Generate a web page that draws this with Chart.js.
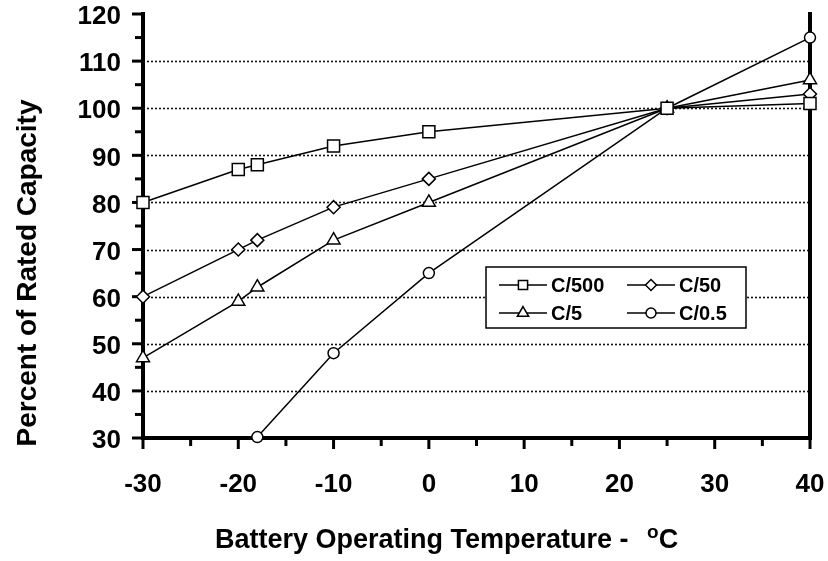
<!DOCTYPE html>
<html><head><meta charset="utf-8">
<script src="https://cdn.jsdelivr.net/npm/chart.js@4/dist/chart.umd.min.js"></script>
<style>html,body{margin:0;padding:0;background:#fff}#wrap{width:828px;height:561px}</style>
</head><body><div id="wrap"><canvas id="c" width="828" height="561"></canvas></div>
<script>
// ---- data ----
const seriesNames = ['C/500', 'C/50', 'C/5', 'C/0.5'];
const tempC500 = [-30, -20, -18, -10, 0, 25, 40];
const capC500  = [80, 87, 88, 92, 95, 100, 101];
const tempC50  = [-30, -20, -18, -10, 0, 25, 40];
const capC50   = [60, 70, 72, 79, 85, 100, 103];
const tempC5   = [-30, -20, -18, -10, 0, 25, 40];
const capC5    = [47, 59, 62, 72, 80, 100, 106];
const tempC05  = [-18, -10, 0, 25, 40];
const capC05   = [30.2, 48, 65, 100, 115];
const xTickValues = [-30, -20, -10, 0, 10, 20, 30, 40];
const xMinorTicks = [-25, -15, -5, 5, 15, 25, 35];
const yTickValues = [30, 40, 50, 60, 70, 80, 90, 100, 110, 120];
const yMinorTicks = [35, 45, 55, 65, 75, 85, 95, 105, 115];
const yTitle = 'Percent of Rated Capacity';
const xTitleMain = 'Battery Operating Temperature - ';
const xTitleSup = 'o';
const xTitleUnit = 'C';

const FONT = '"Liberation Sans", Arial, sans-serif';
const pts = (xs, ys) => xs.map((v, i) => ({x: v, y: ys[i]}));
const styles = [
  {pointStyle: 'rect', r: 8.5, lr: 6.5},
  {pointStyle: 'rectRot', r: 6.5, lr: 5.5},
  {pointStyle: 'triangle', r: 7.5, lr: 6.5},
  {pointStyle: 'circle', r: 5.5, lr: 5}
];
const dataSets = [pts(tempC500, capC500), pts(tempC50, capC50), pts(tempC5, capC5), pts(tempC05, capC05)];

function drawMarker(ctx, style, r, x, y) {
  ctx.beginPath();
  if (style === 'rect') {
    const s = r * Math.SQRT1_2;
    ctx.rect(x - s, y - s, 2 * s, 2 * s);
  } else if (style === 'rectRot') {
    ctx.moveTo(x, y - r); ctx.lineTo(x + r, y); ctx.lineTo(x, y + r); ctx.lineTo(x - r, y); ctx.closePath();
  } else if (style === 'triangle') {
    const a = Math.PI * 2 / 3;
    ctx.moveTo(x, y - r);
    ctx.lineTo(x + Math.sin(a) * r, y - Math.cos(a) * r);
    ctx.lineTo(x + Math.sin(2 * a) * r, y - Math.cos(2 * a) * r);
    ctx.closePath();
  } else {
    ctx.arc(x, y, r, 0, Math.PI * 2);
  }
  ctx.fillStyle = '#fff'; ctx.fill();
  ctx.stroke();
}

const deco = {
  id: 'deco',
  beforeDatasetsDraw(chart) {
    const {ctx, chartArea: a, scales: {x, y}} = chart;
    ctx.save();
    ctx.strokeStyle = '#111';
    ctx.lineWidth = 1.6;
    ctx.setLineDash([2, 2]);
    yTickValues.forEach(v => {
      if (v <= 30 || v >= 120) return;
      const py = Math.round(y.getPixelForValue(v)) + 0.5;
      ctx.beginPath(); ctx.moveTo(a.left, py); ctx.lineTo(a.right, py); ctx.stroke();
    });
    ctx.setLineDash([]);
    ctx.strokeStyle = '#000';
    ctx.lineWidth = 4;
    ctx.beginPath(); ctx.moveTo(a.right, a.top - 2); ctx.lineTo(a.right, a.bottom + 2); ctx.stroke();
    ctx.lineWidth = 3;
    const yt = (v, len) => { const py = y.getPixelForValue(v); ctx.beginPath(); ctx.moveTo(a.left - len, py); ctx.lineTo(a.left, py); ctx.stroke(); };
    const xt = (v, len) => { const px = x.getPixelForValue(v); ctx.beginPath(); ctx.moveTo(px, a.bottom); ctx.lineTo(px, a.bottom + len); ctx.stroke(); };
    yTickValues.forEach(v => yt(v, 11));
    yMinorTicks.forEach(v => yt(v, 8));
    xTickValues.forEach(v => xt(v, 11));
    xMinorTicks.forEach(v => xt(v, 8));
    ctx.restore();
  },
  afterDatasetsDraw(chart) {
    const {ctx} = chart;
    ctx.save();
    const bx = 486, by = 267, bw = 260, bh = 61;
    ctx.fillStyle = '#fff';
    ctx.fillRect(bx, by, bw, bh);
    ctx.strokeStyle = '#000'; ctx.lineWidth = 1.5;
    ctx.strokeRect(bx, by, bw, bh);
    ctx.font = 'bold 20px ' + FONT;
    ctx.textBaseline = 'middle';
    chart.data.datasets.forEach((ds, i) => {
      const col = i % 2, row = Math.floor(i / 2);
      const x0 = 499 + col * 128, x1 = x0 + 48, ry = 285 + row * 28;
      ctx.lineWidth = 1.5; ctx.strokeStyle = '#000';
      ctx.beginPath(); ctx.moveTo(x0, ry); ctx.lineTo(x1, ry); ctx.stroke();
      drawMarker(ctx, styles[i].pointStyle, styles[i].lr, (x0 + x1) / 2, ry);
      ctx.fillStyle = '#000';
      ctx.textAlign = 'left';
      ctx.fillText(ds.label, x1 + 4, ry + 1);
    });
    ctx.restore();
  },
  afterDraw(chart) {
    const {ctx} = chart;
    ctx.save();
    ctx.fillStyle = '#000';
    ctx.font = 'bold 28px ' + FONT;
    ctx.translate(36, 273);
    ctx.rotate(-Math.PI / 2);
    ctx.textAlign = 'center';
    ctx.textBaseline = 'alphabetic';
    ctx.fillText(yTitle, 0, 0);
    ctx.setTransform(1, 0, 0, 1, 0, 0);
    const base = 548;
    let sx = 215;
    ctx.textAlign = 'left';
    ctx.font = 'bold 27px ' + FONT;
    ctx.fillText(xTitleMain, sx, base);
    sx += ctx.measureText(xTitleMain).width + 11;
    ctx.font = 'bold 19px ' + FONT;
    ctx.fillText(xTitleSup, sx, base - 10);
    sx += ctx.measureText(xTitleSup).width;
    ctx.font = 'bold 27px ' + FONT;
    ctx.fillText(xTitleUnit, sx, base);
    ctx.restore();
  }
};

const Y_AXIS_W = 100, X_AXIS_H = 80;
new Chart(document.getElementById('c'), {
  type: 'scatter',
  data: {
    datasets: dataSets.map((d, i) => ({
      label: seriesNames[i],
      data: d,
      showLine: true,
      tension: 0,
      borderColor: '#000',
      borderWidth: 1.5,
      pointStyle: styles[i].pointStyle,
      pointRadius: styles[i].r,
      pointHoverRadius: styles[i].r,
      pointBorderWidth: 1.5,
      pointBorderColor: '#000',
      pointBackgroundColor: '#fff',
      clip: false
    }))
  },
  options: {
    responsive: false,
    animation: false,
    devicePixelRatio: 1,
    layout: {padding: {left: 143 - Y_AXIS_W, right: 18, top: 14, bottom: 561 - 438 - X_AXIS_H}},
    plugins: {legend: {display: false}, tooltip: {enabled: false}},
    scales: {
      x: {
        type: 'linear', min: -30, max: 40,
        afterBuildTicks: s => { s.ticks = xTickValues.map(v => ({value: v})); },
        afterFit: s => { s.height = X_AXIS_H; s.paddingLeft = 0; s.paddingRight = 0; },
        grid: {display: false, drawTicks: false},
        border: {display: true, color: '#000', width: 4},
        ticks: {color: '#000', padding: 31, font: {family: FONT, size: 26, weight: 'bold'}, maxRotation: 0}
      },
      y: {
        type: 'linear', min: 30, max: 120,
        afterBuildTicks: s => { s.ticks = yTickValues.map(v => ({value: v})); },
        afterFit: s => { s.width = Y_AXIS_W; s.paddingTop = 0; s.paddingBottom = 0; },
        grid: {display: false, drawTicks: false},
        border: {display: true, color: '#000', width: 4},
        ticks: {color: '#000', padding: 22, labelOffset: 3, font: {family: FONT, size: 26, weight: 'bold'}}
      }
    }
  },
  plugins: [deco]
});
</script>
</body></html>
